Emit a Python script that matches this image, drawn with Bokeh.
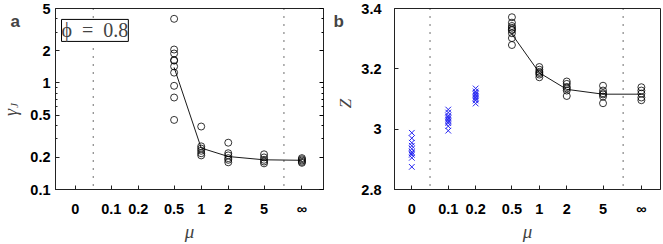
import math
from bokeh.plotting import figure
from bokeh.layouts import row
from bokeh.models import (FixedTicker, CustomJSTickFormatter, Span, Label,
                          Range1d, LogAxis)
from bokeh.embed import file_html
from bokeh.resources import INLINE

# ---------------- data ----------------
mu_labels = ["0", "0.1", "0.2", "0.5", "1", "2", "5", "∞"]

# panel a: gamma_J (log scale)
gammaJ_mu05 = [4.0, 2.06, 1.89, 1.64, 1.62, 1.43, 1.25, 0.94, 0.73, 0.45]
gammaJ_mu1 = [0.39, 0.254, 0.242, 0.231, 0.219, 0.209]
gammaJ_mu2 = [0.275, 0.219, 0.209, 0.197, 0.19, 0.18]
gammaJ_mu5 = [0.214, 0.2, 0.19, 0.183, 0.176]
gammaJ_inf = [0.197, 0.192, 0.187, 0.182, 0.178]
gammaJ_line = [1.4, 0.245, 0.204, 0.19, 0.188]

# panel b: Z
Z_mu0 = [2.988, 2.97, 2.955, 2.945, 2.935, 2.925, 2.92, 2.915, 2.905, 2.875]
Z_mu01 = [3.065, 3.055, 3.045, 3.04, 3.035, 3.03, 3.025, 3.02, 3.01, 2.995]
Z_mu02 = [3.135, 3.125, 3.12, 3.115, 3.11, 3.105, 3.1, 3.095, 3.085]
Z_mu05 = [3.371, 3.353, 3.342, 3.336, 3.33, 3.328, 3.318, 3.302, 3.279]
Z_mu1 = [3.206, 3.197, 3.19, 3.186, 3.181, 3.172]
Z_mu2 = [3.158, 3.15, 3.14, 3.135, 3.128, 3.11]
Z_mu5 = [3.144, 3.128, 3.119, 3.115, 3.108, 3.086]
Z_inf = [3.139, 3.128, 3.118, 3.105, 3.096]
Z_line = [3.315, 3.187, 3.132, 3.116, 3.116]

gammaJ_ticks = [0.1, 0.2, 0.5, 1, 2, 5]
Z_ticks = [2.8, 3.0, 3.2, 3.4]


# ---------------- x scale: log10(mu), with 0 and inf placed at the ends ----
def xpos(lab):
    if lab == "0":
        return -1.4
    if lab == "∞":
        return 1.12
    return math.log10(float(lab))


POS = [xpos(l) for l in mu_labels]
SEP = [-1.2, 0.92]

SANS = "Liberation Sans"
SERIF = "Liberation Serif"
BLUE = "#2424f2"

fmt_x = CustomJSTickFormatter(args=dict(pos=POS, labels=mu_labels), code="""
let b = 0;
for (let i = 0; i < pos.length; i++) {
  if (Math.abs(pos[i] - tick) < Math.abs(pos[b] - tick)) b = i;
}
return labels[b];
""")
fmt_y = CustomJSTickFormatter(code="return String(Math.round(tick * 10) / 10);")


def style(p, ystand):
    p.outline_line_color = "#222222"
    p.outline_line_width = 1
    p.background_fill_color = "white"
    p.border_fill_color = "white"
    p.xgrid.visible = False
    p.ygrid.visible = False
    for ax in (p.xaxis[0], p.yaxis[0]):
        ax.axis_line_color = "#222222"
        ax.major_tick_in = 4
        ax.major_tick_out = 0
        ax.minor_tick_in = 2
        ax.minor_tick_out = 0
        ax.major_tick_line_color = "#222222"
        ax.minor_tick_line_color = "#222222"
        ax.major_label_text_font = SANS
        ax.major_label_text_font_style = "bold"
        ax.major_label_text_font_size = "14.5px"
        ax.major_label_text_color = "black"
    p.xaxis[0].ticker = FixedTicker(ticks=POS, minor_ticks=[])
    p.xaxis[0].formatter = fmt_x
    p.xaxis[0].major_label_standoff = 11
    p.xaxis[0].axis_label = "μ"
    p.xaxis[0].axis_label_text_font = SERIF
    p.xaxis[0].axis_label_text_font_style = "italic"
    p.xaxis[0].axis_label_text_font_size = "19px"
    p.xaxis[0].axis_label_standoff = 1
    p.yaxis[0].major_label_standoff = ystand
    p.yaxis[0].formatter = fmt_y
    for s in SEP:
        p.add_layout(Span(location=s, dimension="height", line_color="#111111",
                          line_width=1.2, line_dash="1 7"))


def gutter(w):
    """Narrow text-only strip left of a panel (y measured down from the top)."""
    g = figure(width=w, height=244, x_range=Range1d(0, w), y_range=Range1d(244, 0),
               x_axis_type=None, y_axis_type=None, output_backend="svg",
               toolbar_location=None, min_border=0)
    g.outline_line_color = None
    g.xgrid.visible = False
    g.ygrid.visible = False
    g.background_fill_color = "white"
    g.border_fill_color = "white"
    return g


def vlabel(g, x, y, text, size):
    g.add_layout(Label(x=x, y=y, text=text, text_font=SERIF,
                       text_font_style="italic", text_font_size=size,
                       angle=math.pi / 2, text_align="center",
                       text_baseline="middle"))


# ---------------- panel a ----------------
ga = gutter(26)
ga.add_layout(Label(x=10, y=18, text="a", text_font=SANS, text_font_style="bold",
                    text_font_size="17px", text_align="left",
                    text_baseline="alphabetic"))
vlabel(ga, 10, 140, "γ", "18px")
vlabel(ga, 13.5, 131, "J", "11px")

pa = figure(width=304, height=244, x_range=Range1d(-1.62, 1.36),
            y_range=Range1d(0.1, 5), y_axis_type="log",
            output_backend="svg", toolbar_location=None,
            min_border_left=29, min_border_right=7, min_border_top=8,
            min_border_bottom=47)
pa.yaxis[0].ticker = FixedTicker(ticks=gammaJ_ticks,
                                 minor_ticks=[0.3, 0.4, 0.6, 0.7, 0.8, 0.9, 3, 4])
style(pa, 5)

mir = LogAxis(ticker=FixedTicker(ticks=gammaJ_ticks,
                                 minor_ticks=[0.3, 0.4, 0.6, 0.7, 0.8, 0.9, 3, 4]),
              formatter=CustomJSTickFormatter(code="return '';"),
              major_tick_in=4, major_tick_out=0, minor_tick_in=2, minor_tick_out=0,
              major_label_standoff=0, axis_line_color="#222222",
              major_label_text_font_size="1px")
pa.add_layout(mir, "right")

groups_a = [gammaJ_mu05, gammaJ_mu1, gammaJ_mu2, gammaJ_mu5, gammaJ_inf]
for lab, vals in zip(mu_labels[3:], groups_a):
    pa.scatter([xpos(lab)] * len(vals), vals, marker="circle", size=7,
               fill_color=None, line_color="black", line_width=0.8)
pa.line([xpos(l) for l in mu_labels[3:]], gammaJ_line, line_color="black",
        line_width=0.9)

pa.add_layout(Label(x=-1.553, y=3.95, text="ϕ\u2002=\u20020.8", text_font=SERIF,
                    text_font_size="20px", text_align="left",
                    text_baseline="top", border_line_color="black",
                    border_line_width=1, background_fill_color="white",
                    padding=0))

# ---------------- panel b ----------------
gb = gutter(27)
gb.add_layout(Label(x=3, y=17, text="b", text_font=SANS, text_font_style="bold",
                    text_font_size="17px", text_align="left",
                    text_baseline="alphabetic"))
vlabel(gb, 15, 128, "Z", "17px")

pb = figure(width=306, height=244, x_range=Range1d(-1.59, 1.33),
            y_range=Range1d(2.8, 3.4),
            output_backend="svg", toolbar_location=None,
            min_border_left=37, min_border_right=3, min_border_top=8,
            min_border_bottom=47)
pb.yaxis[0].ticker = FixedTicker(ticks=Z_ticks, minor_ticks=[])
style(pb, 13)

groups_bx = [Z_mu0, Z_mu01, Z_mu02]
for lab, vals in zip(mu_labels[:3], groups_bx):
    pb.scatter([xpos(lab)] * len(vals), vals, marker="x", size=8,
               line_color=BLUE, line_width=1)
groups_bo = [Z_mu05, Z_mu1, Z_mu2, Z_mu5, Z_inf]
for lab, vals in zip(mu_labels[3:], groups_bo):
    pb.scatter([xpos(lab)] * len(vals), vals, marker="circle", size=7,
               fill_color=None, line_color="black", line_width=0.8)
pb.line([xpos(l) for l in mu_labels[3:]], Z_line, line_color="black",
        line_width=0.9)

layout = row(ga, pa, gb, pb)
open("out.html", "w").write(file_html(layout, INLINE))
